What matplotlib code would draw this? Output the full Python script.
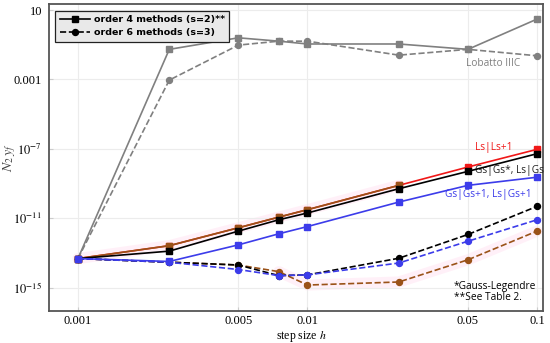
import matplotlib
matplotlib.use("Agg")
import matplotlib.pyplot as plt
from matplotlib.lines import Line2D

# ---- data ----
h = [0.001, 0.0025, 0.005, 0.0075, 0.01, 0.025, 0.05, 0.1]

lob4 = [4.7e-14, 0.054, 0.25, 0.16, 0.11, 0.11, 0.054, 3.0]
lob6 = [4.7e-14, 9.1e-4, 0.095, 0.16, 0.16, 0.025, 0.054, 0.023]

ls4_red = [4.7e-14, 2.6e-13, 2.8e-12, 1.15e-11, 3.1e-11, 7.8e-10, 8.9e-9, 9.3e-8]
ls4_brown = [4.7e-14, 2.6e-13, 2.8e-12, 1.15e-11, 3.1e-11, 7.8e-10]
gs4_black = [4.7e-14, 1.26e-13, 1.8e-12, 8.1e-12, 2.0e-11, 5.0e-10, 5.0e-9, 5.2e-8]
gs4_blue = [4.7e-14, 3.2e-14, 2.9e-13, 1.26e-12, 3.3e-12, 8.5e-11, 7.8e-10, 2.3e-9]

gs6_black = [4.7e-14, 2.9e-14, 2.0e-14, 4.9e-15, 5.4e-15, 4.9e-14, 1.15e-12, 4.8e-11]
gs6_blue = [4.7e-14, 2.9e-14, 1.1e-14, 4.9e-15, 5.4e-15, 2.6e-14, 4.7e-13, 8.1e-12]
ls6_brown = [4.7e-14, 2.9e-14, 2.0e-14, 8.3e-15, 1.4e-15, 2.1e-15, 4.0e-14, 1.8e-12]

xticks = [0.001, 0.005, 0.01, 0.05, 0.1]
xticklabels = ["0.001", "0.005", "0.01", "0.05", "0.1"]
yticks = [10, 1e-3, 1e-7, 1e-11, 1e-15]
yticklabels = ["10", "0.001", r"$10^{-7}$", r"$10^{-11}$", r"$10^{-15}$"]

# ---- style ----
plt.rcParams['mathtext.fontset'] = 'stix'
serif = ['Liberation Serif', 'DejaVu Serif']
sans = ['Open Sans', 'DejaVu Sans']
GRAY = '#808080'
RED = '#f01818'
BROWN = '#9a5218'
BLUE = '#3c3cea'
PINK = '#ffb8dc'

fig = plt.figure(figsize=(5.5, 3.43), dpi=100)
ax = fig.add_axes([0.0891, 0.0933, 0.8982, 0.895])
ax.set_xscale('log')
ax.set_yscale('log')
ax.set_xlim(10**-3.126, 10**-0.974)
ax.set_ylim(10**-16.35, 10**1.346)

ms = 4.3
lw = 1.2

# pink halos
ax.plot(h[:6], ls4_brown, color=PINK, lw=8, alpha=0.2, solid_capstyle='round', zorder=1)
ax.plot(h[3:], ls6_brown[3:], color=PINK, lw=8, alpha=0.2, solid_capstyle='round', zorder=1)

ax.plot(h, lob4, '-', color=GRAY, lw=lw, marker='s', ms=ms, zorder=2)
ax.plot(h, lob6, '--', color=GRAY, lw=lw, marker='o', ms=ms, zorder=2)

ax.plot(h, ls4_red, '-', color=RED, lw=lw, marker='s', ms=ms, zorder=3)
ax.plot(h[:6], ls4_brown, '-', color=BROWN, lw=lw, marker='s', ms=ms, zorder=3)
ax.plot(h, gs4_black, '-', color='black', lw=lw, marker='s', ms=ms, zorder=4)

ax.plot(h, ls6_brown, '--', color=BROWN, lw=lw, marker='o', ms=ms, zorder=4)
ax.plot(h, gs6_black, '--', color='black', lw=lw, marker='o', ms=ms, zorder=5)
ax.plot(h, gs6_blue, '--', color=BLUE, lw=lw, marker='o', ms=ms, zorder=6)
ax.plot(h, gs4_blue, '-', color=BLUE, lw=lw, marker='s', ms=ms, zorder=7)

# axes styling
ax.set_xticks(xticks)
ax.set_xticklabels(xticklabels, fontfamily=serif, fontsize=9)
ax.set_yticks(yticks)
ax.set_yticklabels(yticklabels, fontfamily=serif, fontsize=9)
ax.minorticks_off()
ax.tick_params(axis='both', which='major', length=3, direction='in', color='#cccccc', pad=5)
ax.tick_params(axis='x', pad=3)
ax.grid(True, which='major', color='#ececec', lw=0.8, zorder=0)
for s in ax.spines.values():
    s.set_color('#555555')
    s.set_linewidth(1.3)

ax.set_xlabel('step size $h$', fontfamily=serif, fontsize=8.5)
ax.xaxis.set_label_coords(0.51, -0.058)
ax.set_ylabel(r'$N_2\,y_f$', fontsize=10, color='#444444')
ax.yaxis.set_label_coords(-0.062, 0.5)

# text labels
tkw = dict(fontfamily=sans, fontsize=7.3, va='center')
ax.text(0.049, 7.8e-3, 'Lobatto IIIC', color=GRAY, **tkw)
ax.text(0.0537, 1.26e-7, 'Ls|Ls+1', color=RED, **tkw)
ax.text(0.0537, 5.5e-9, 'Gs|Gs*, Ls|Gs', color='#222222', **tkw)
ax.text(0.0397, 2.2e-10, 'Gs|Gs+1, Ls|Gs+1', color=BLUE, **tkw)
ax.text(0.0435, 5.6e-16, '*Gauss-Legendre\n**See Table 2.', color='black',
        fontfamily=sans, fontsize=7.3, linespacing=1.1, va='center')

# legend
handles = [Line2D([], [], color='black', ls='-', marker='s', ms=ms, lw=lw),
           Line2D([], [], color='black', ls='--', marker='o', ms=ms, lw=lw)]
leg = ax.legend(handles, ['order 4 methods (s=2)**', 'order 6 methods (s=3)'],
                loc='upper left', bbox_to_anchor=(0.008, 0.985), fancybox=False,
                prop={'family': 'DejaVu Sans', 'weight': 'bold', 'size': 6.8},
                handlelength=3.2, handletextpad=0.4, borderpad=0.5, labelspacing=0.45,
                framealpha=1, borderaxespad=0.2)
leg.get_frame().set_facecolor('#e9e9e9')
leg.get_frame().set_edgecolor('#222222')
leg.get_frame().set_linewidth(0.9)
leg.set_zorder(10)

fig.savefig('out.png', dpi=100)
